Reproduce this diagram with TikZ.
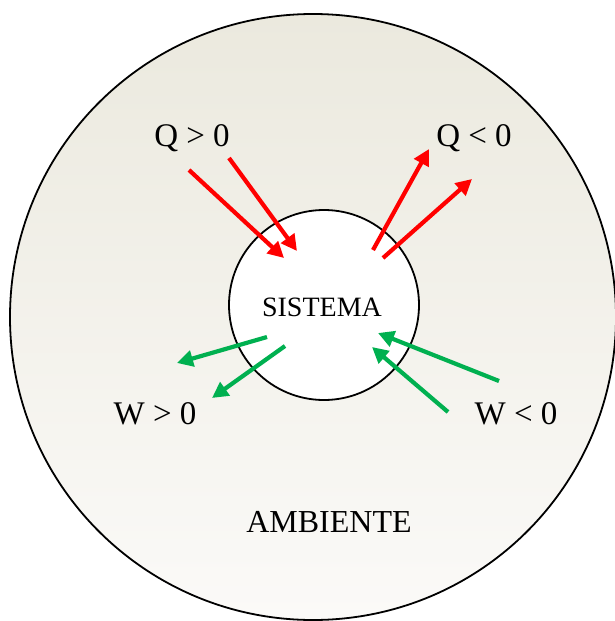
\documentclass[tikz,border=0pt]{standalone}
\usepackage{fontspec}
\setmainfont{Liberation Serif}
\usetikzlibrary{arrows.meta}
\definecolor{qred}{HTML}{FF0000}
\definecolor{wgreen}{HTML}{00B050}
\definecolor{bgtop}{HTML}{EBE9DE}
\definecolor{bgbot}{HTML}{FBFAF8}
\tikzset{
  qarrow/.style={draw=qred, line width=4.2pt, -{Triangle[length=16pt,width=16pt]}},
  warrow/.style={draw=wgreen, line width=4.2pt, -{Triangle[length=16pt,width=16pt]}},
  lbl/.style={font=\fontsize{33}{35}\selectfont, inner sep=0pt},
}
\begin{document}
\begin{tikzpicture}[x=1pt,y=-1pt]
\useasboundingbox (0,0) rectangle (615,621);
\begin{scope}
\clip (0,0) rectangle (615,621);
\node[circle, draw=black, line width=1.8pt, minimum size=606pt, inner sep=0pt, top color=bgtop, bottom color=bgbot] (amb) at (313,317) {};
\end{scope}
\node[circle, draw=black, line width=1.8pt, fill=white, minimum size=190pt, inner sep=0pt] (sis) at (324,305) {};
\node[lbl, font=\fontsize{28}{30}\selectfont] (sistxt) at (322,307) {SISTEMA};
\node[lbl, font=\fontsize{32}{34}\selectfont] (ambtxt) at (329,522) {AMBIENTE};
\node[lbl] (qpos) at (192,138) {Q > 0};
\node[lbl] (qneg) at (474,138) {Q < 0};
\node[lbl] (wpos) at (155,414) {W > 0};
\node[lbl] (wneg) at (516,414) {W < 0};
% arrow end points
\coordinate (a1s) at (189,170); \coordinate (a1e) at (284,258);
\coordinate (a2s) at (229,158); \coordinate (a2e) at (297,251);
\coordinate (a3s) at (373,250); \coordinate (a3e) at (429,149);
\coordinate (a4s) at (383,258); \coordinate (a4e) at (472,179);
\coordinate (a5s) at (267,337); \coordinate (a5e) at (177,363);
\coordinate (a6s) at (285,346); \coordinate (a6e) at (212,398);
\coordinate (a7s) at (499,381); \coordinate (a7e) at (378,333);
\coordinate (a8s) at (448,412); \coordinate (a8e) at (372,347);
\draw[qarrow] (a1s) -- (a1e);
\draw[qarrow] (a2s) -- (a2e);
\draw[qarrow] (a3s) -- (a3e);
\draw[qarrow] (a4s) -- (a4e);
\draw[warrow] (a5s) -- (a5e);
\draw[warrow] (a6s) -- (a6e);
\draw[warrow] (a7s) -- (a7e);
\draw[warrow] (a8s) -- (a8e);
\end{tikzpicture}
\end{document}
